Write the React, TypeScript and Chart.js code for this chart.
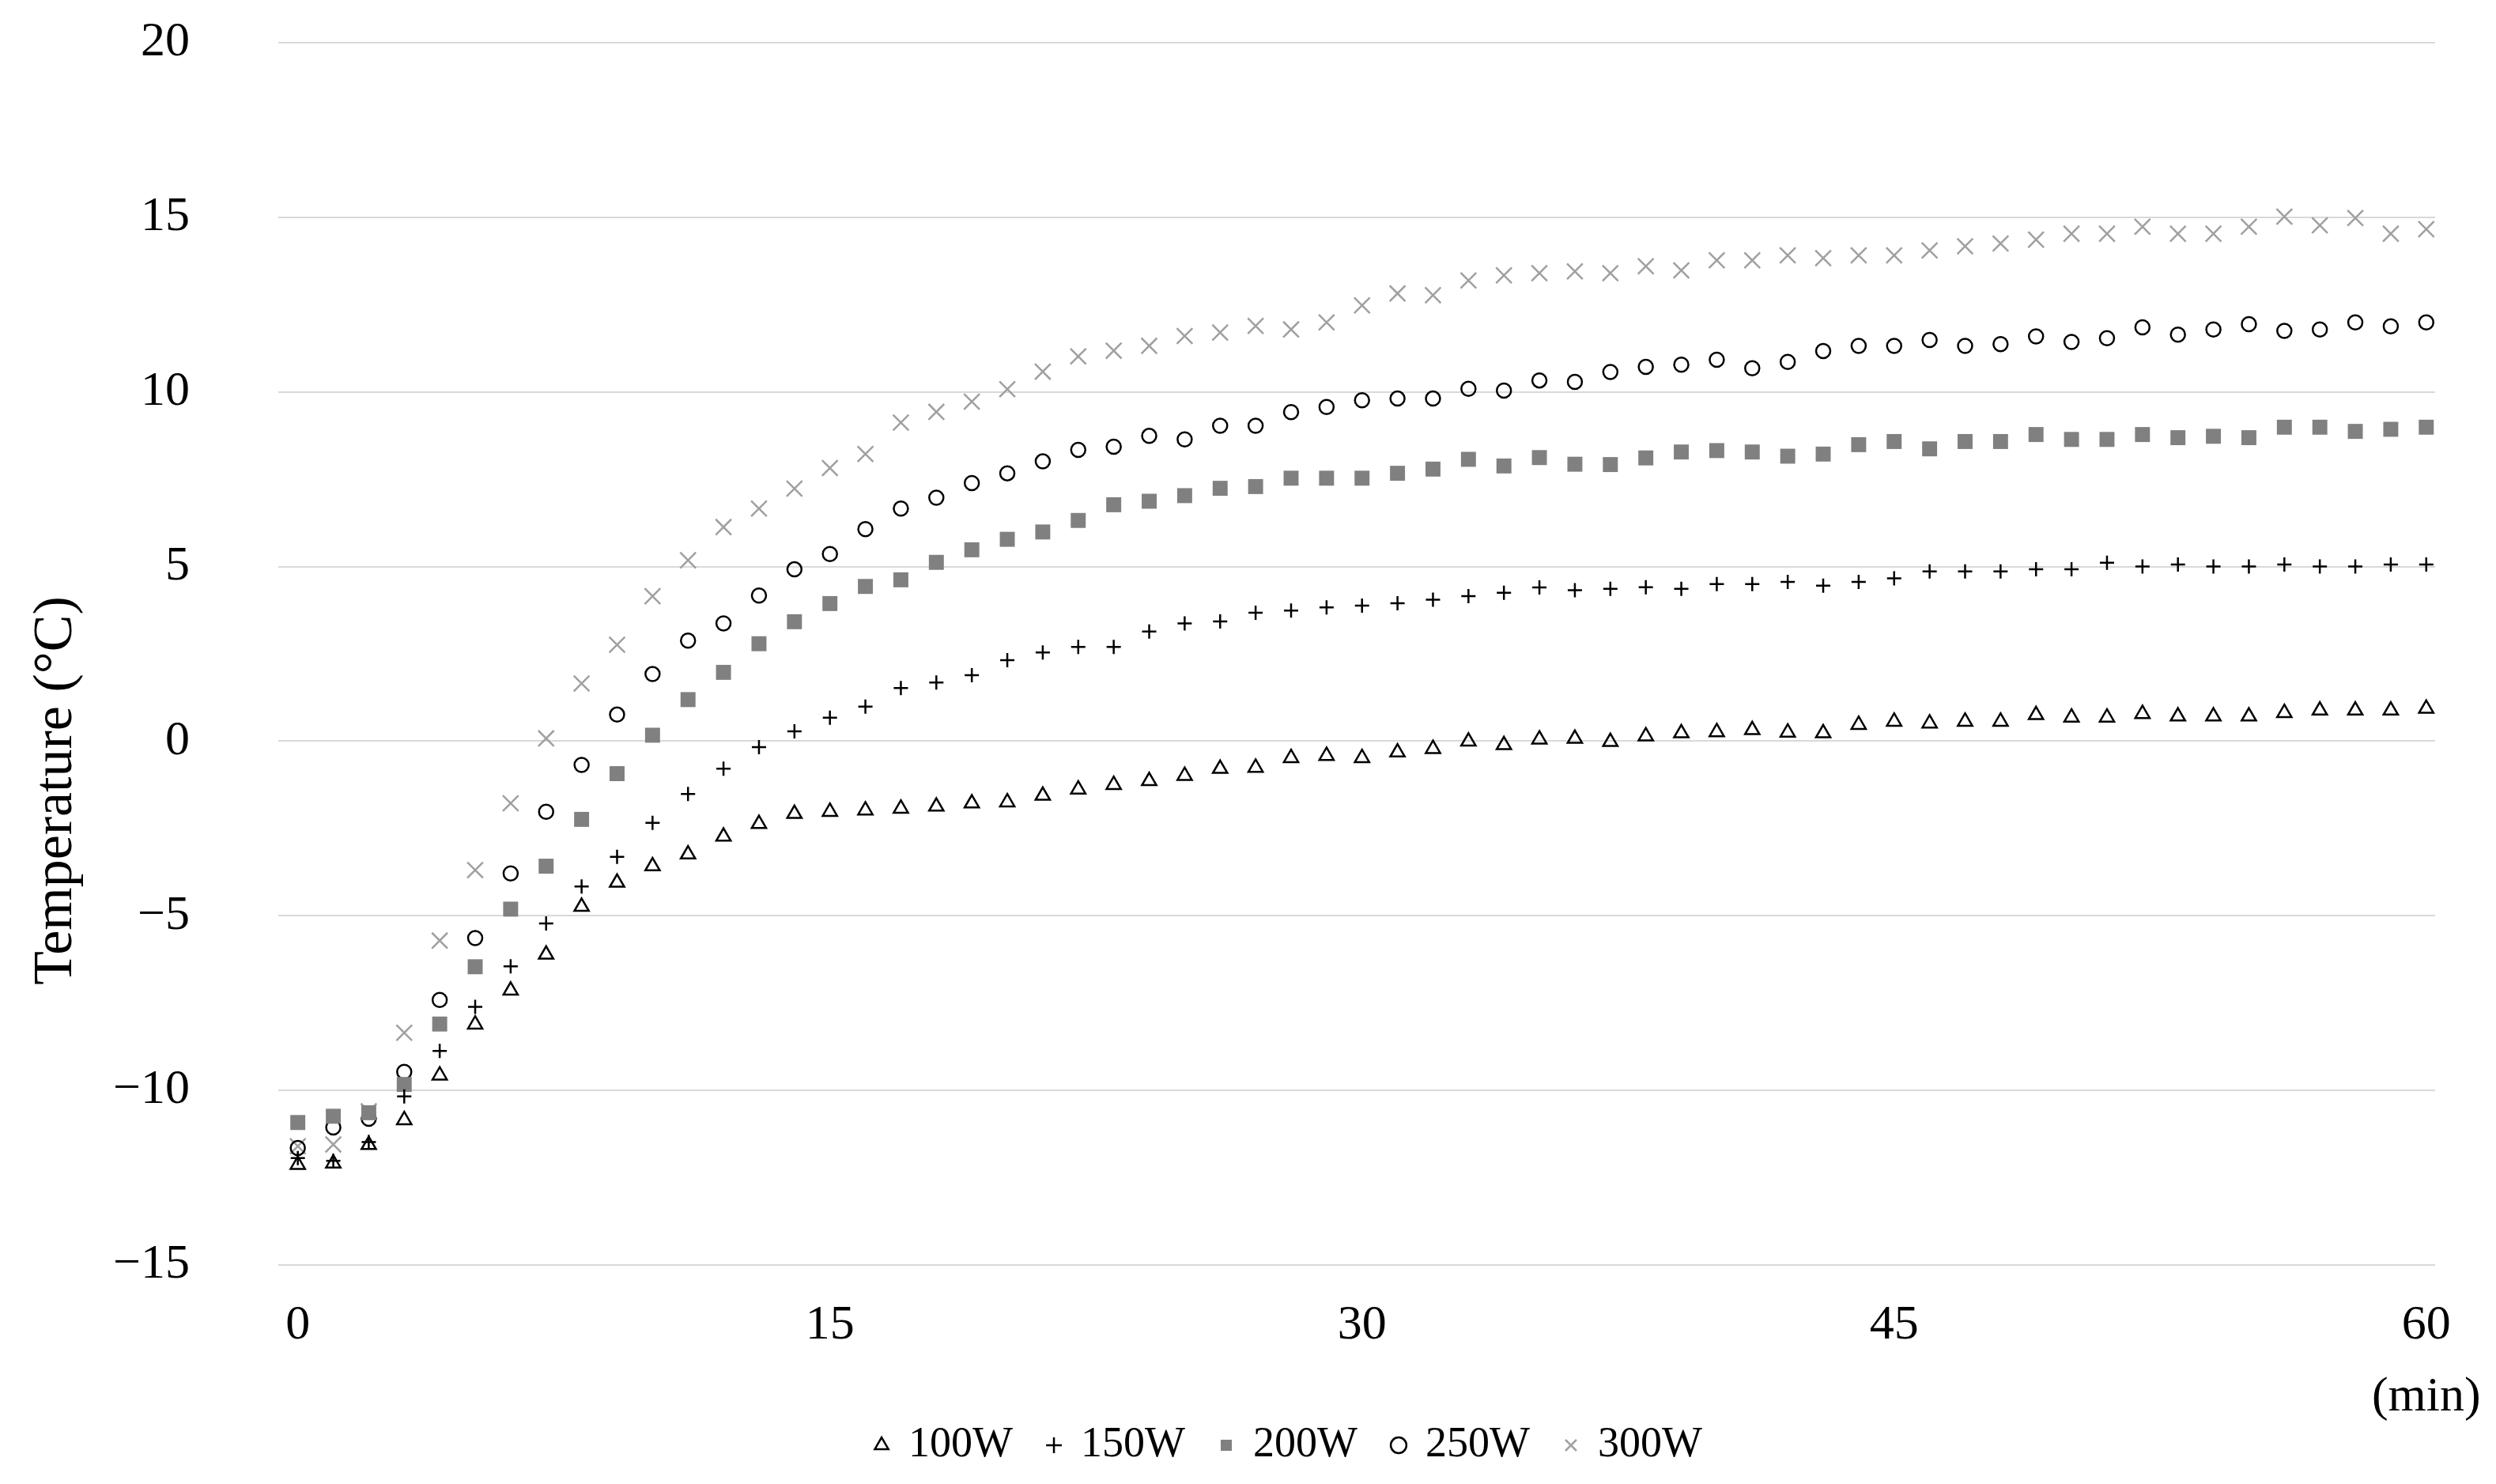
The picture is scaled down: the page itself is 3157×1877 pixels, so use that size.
import React, { useEffect, useRef } from 'react';
import { Chart, registerables } from 'chart.js';

Chart.register(...registerables);

const MINUTES = [
  0, 1, 2, 3, 4, 5, 6, 7, 8, 9, 10, 11, 12, 13, 14, 15, 16, 17, 18, 19, 20,
  21, 22, 23, 24, 25, 26, 27, 28, 29, 30, 31, 32, 33, 34, 35, 36, 37, 38, 39, 40,
  41, 42, 43, 44, 45, 46, 47, 48, 49, 50, 51, 52, 53, 54, 55, 56, 57, 58, 59, 60,
];

const SERIES_NAMES = ['100W', '150W', '200W', '250W', '300W'];

const T_100W = [
  -12.13, -12.09, -11.56, -10.85, -9.57, -8.11, -7.14, -6.11, -4.74, -4.05,
  -3.58, -3.24, -2.73, -2.37, -2.08, -2.02, -1.98, -1.93, -1.87, -1.78,
  -1.75, -1.56, -1.38, -1.25, -1.14, -0.99, -0.79, -0.76, -0.48, -0.42,
  -0.48, -0.32, -0.22, -0.01, -0.11, 0.05, 0.07, -0.02, 0.14, 0.23,
  0.26, 0.32, 0.25, 0.23, 0.47, 0.56, 0.51, 0.56, 0.56, 0.75,
  0.68, 0.68, 0.78, 0.71, 0.71, 0.71, 0.81, 0.88, 0.88, 0.88, 0.93,
];

const T_150W = [
  -11.94, -12.02, -11.48, -10.17, -8.87, -7.61, -6.45, -5.22, -4.16, -3.31,
  -2.34, -1.51, -0.79, -0.17, 0.28, 0.67, 0.99, 1.52, 1.68, 1.89,
  2.32, 2.54, 2.7, 2.7, 3.14, 3.37, 3.43, 3.68, 3.74, 3.83,
  3.88, 3.95, 4.05, 4.15, 4.25, 4.4, 4.32, 4.36, 4.41, 4.36,
  4.5, 4.5, 4.56, 4.45, 4.56, 4.66, 4.86, 4.86, 4.86, 4.92,
  4.92, 5.11, 5.0, 5.06, 5.0, 5.0, 5.06, 5.0, 5.0, 5.06, 5.06,
];

const T_200W = [
  -10.92, -10.74, -10.64, -9.83, -8.1, -6.46, -4.81, -3.58, -2.24, -0.93,
  0.17, 1.19, 1.97, 2.79, 3.42, 3.94, 4.43, 4.62, 5.12, 5.48,
  5.78, 5.99, 6.32, 6.77, 6.87, 7.03, 7.24, 7.29, 7.53, 7.53,
  7.53, 7.67, 7.79, 8.07, 7.88, 8.12, 7.93, 7.92, 8.11, 8.28,
  8.32, 8.28, 8.16, 8.22, 8.49, 8.58, 8.37, 8.58, 8.58, 8.78,
  8.64, 8.64, 8.78, 8.69, 8.73, 8.69, 8.99, 8.99, 8.87, 8.93, 8.99,
];

const T_250W = [
  -11.65, -11.06, -10.81, -9.47, -7.41, -5.64, -3.79, -2.02, -0.68, 0.76,
  1.92, 2.88, 3.37, 4.17, 4.92, 5.36, 6.07, 6.66, 6.97, 7.39,
  7.67, 8.01, 8.34, 8.43, 8.74, 8.64, 9.03, 9.03, 9.42, 9.57,
  9.76, 9.81, 9.81, 10.09, 10.04, 10.33, 10.29, 10.57, 10.72, 10.78,
  10.92, 10.68, 10.86, 11.17, 11.32, 11.32, 11.49, 11.32, 11.37, 11.59,
  11.43, 11.54, 11.85, 11.64, 11.79, 11.94, 11.75, 11.79, 11.99, 11.88, 11.99,
];

const T_300W = [
  -11.6, -11.55, -10.6, -8.35, -5.71, -3.69, -1.78, 0.08, 1.65, 2.76,
  4.15, 5.18, 6.13, 6.66, 7.23, 7.82, 8.22, 9.12, 9.43, 9.72,
  10.08, 10.58, 11.02, 11.18, 11.32, 11.6, 11.7, 11.89, 11.79, 11.99,
  12.48, 12.82, 12.77, 13.19, 13.34, 13.4, 13.45, 13.4, 13.6, 13.48,
  13.77, 13.77, 13.91, 13.83, 13.91, 13.91, 14.05, 14.17, 14.25, 14.36,
  14.53, 14.53, 14.73, 14.53, 14.53, 14.73, 15.02, 14.77, 14.98, 14.53, 14.66,
];

const X_TICKS = [0, 15, 30, 45, 60];
const Y_TICKS = [-15, -10, -5, 0, 5, 10, 15, 20];

const Y_TITLE = 'Temperature (°C)';
const X_UNIT = '(min)';

const FONT = "'Liberation Serif', 'Times New Roman', Times, serif";

const toPoints = (vals: number[]) => MINUTES.map((m, i) => ({ x: m, y: vals[i] }));

const axisTextPlugin = {
  id: 'axisTexts',
  afterDraw(chart: any) {
    const { ctx } = chart;
    const xs = chart.scales.x;
    ctx.save();
    ctx.fillStyle = '#000000';
    ctx.textAlign = 'center';
    ctx.textBaseline = 'middle';
    ctx.font = `70px ${FONT}`;
    ctx.translate(72, 1000);
    ctx.rotate(-Math.PI / 2);
    ctx.fillText(Y_TITLE, 0, 0);
    ctx.restore();
    ctx.save();
    ctx.fillStyle = '#000000';
    ctx.textAlign = 'center';
    ctx.textBaseline = 'middle';
    ctx.font = `62px ${FONT}`;
    ctx.fillText(X_UNIT, xs.getPixelForValue(X_TICKS[X_TICKS.length - 1]), 1768);
    ctx.restore();
  },
};

export default function App() {
  const canvasRef = useRef<HTMLCanvasElement | null>(null);

  useEffect(() => {
    const canvas = canvasRef.current;
    if (!canvas) return;
    const seriesVals = [T_100W, T_150W, T_200W, T_250W, T_300W];
    const styles = [
      { pointStyle: 'triangle', pointRadius: 10.5, borderColor: '#000000', backgroundColor: 'rgba(255,255,255,0)', borderWidth: 2.5 },
      { pointStyle: 'cross', pointRadius: 9, borderColor: '#000000', backgroundColor: '#000000', borderWidth: 2.5 },
      { pointStyle: 'rect', pointRadius: 13.4, borderColor: '#808080', backgroundColor: '#808080', borderWidth: 0 },
      { pointStyle: 'circle', pointRadius: 9, borderColor: '#000000', backgroundColor: 'rgba(255,255,255,0)', borderWidth: 2.5 },
      { pointStyle: 'crossRot', pointRadius: 14, borderColor: '#a0a0a0', backgroundColor: '#a0a0a0', borderWidth: 2.5 },
    ];
    const datasets = SERIES_NAMES.map((name, i) => ({
      label: name,
      data: toPoints(seriesVals[i]),
      showLine: false,
      ...styles[i],
      pointHoverRadius: styles[i].pointRadius,
    }));

    const chart = new Chart(canvas, {
      type: 'scatter',
      data: { datasets } as any,
      plugins: [axisTextPlugin],
      options: {
        responsive: false,
        animation: false,
        maintainAspectRatio: false,
        layout: { padding: { left: 104, right: 0, top: 54, bottom: 12 } },
        plugins: {
          tooltip: { enabled: false },
          title: { display: false },
          legend: {
            display: true,
            position: 'bottom',
            align: 'center',
            labels: {
              usePointStyle: true,
              boxWidth: 14,
              boxHeight: 14,
              padding: 45,
              color: '#000000',
              font: { family: FONT, size: 54 },
            },
          },
        },
        scales: {
          x: {
            type: 'linear',
            min: -0.55,
            max: 60.25,
            afterBuildTicks: (s: any) => {
              s.ticks = X_TICKS.map((v) => ({ value: v }));
            },
            afterFit: (s: any) => {
              s.height = 156;
            },
            grid: { display: false, drawTicks: false },
            border: { display: false },
            ticks: {
              color: '#000000',
              padding: 40,
              maxRotation: 0,
              font: { family: FONT, size: 62 },
            },
          },
          y: {
            type: 'linear',
            min: -15,
            max: 20,
            afterBuildTicks: (s: any) => {
              s.ticks = Y_TICKS.map((v) => ({ value: v }));
            },
            afterFit: (s: any) => {
              s.width = 248;
            },
            grid: {
              display: true,
              color: '#d9d9d9',
              lineWidth: 2,
              drawTicks: true,
              tickLength: 112,
              tickColor: 'rgba(0,0,0,0)',
            },
            border: { display: false },
            ticks: {
              color: '#000000',
              padding: 0,
              font: { family: FONT, size: 62 },
              callback: (v: any) => (Number(v) < 0 ? '\u2212' + Math.abs(Number(v)) : String(v)),
            },
          },
          yRight: {
            type: 'linear',
            position: 'right',
            display: true,
            grid: { display: false, drawTicks: false },
            border: { display: false },
            ticks: { display: false },
            afterFit: (s: any) => {
              s.width = 77;
            },
          },
        },
      } as any,
    });
    return () => chart.destroy();
  }, []);

  return (
    <div style={{ position: 'fixed', left: 0, top: 0, width: 3157, height: 1877, background: '#ffffff' }}>
      <canvas ref={canvasRef} width={3157} height={1877} style={{ display: 'block', width: 3157, height: 1877 }} />
    </div>
  );
}
